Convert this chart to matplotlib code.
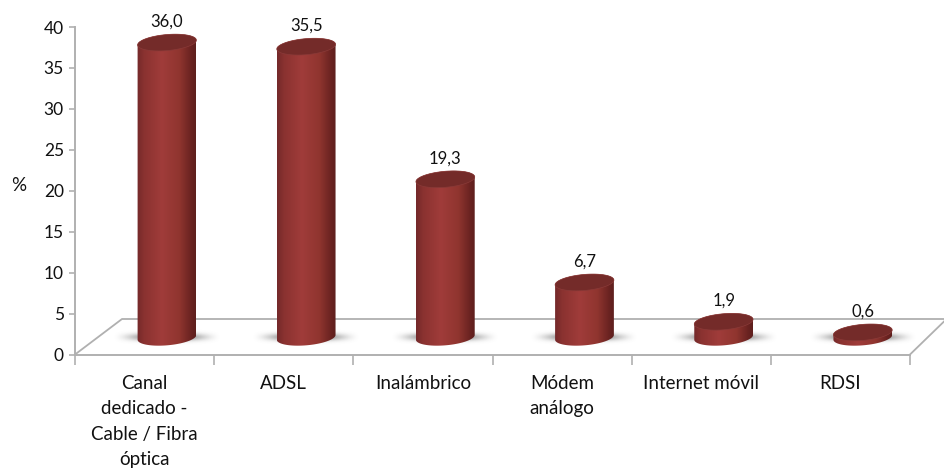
import numpy as np
import matplotlib
matplotlib.use('Agg')
import matplotlib.pyplot as plt
from matplotlib.colors import LinearSegmentedColormap
from matplotlib.patches import Polygon

categories = ['Canal\ndedicado -\nCable / Fibra\nóptica', 'ADSL', 'Inalámbrico',
              'Módem\nanálogo', 'Internet móvil', 'RDSI']
values = [36.0, 35.5, 19.3, 6.7, 1.9, 0.6]
value_labels = ['36,0', '35,5', '19,3', '6,7', '1,9', '0,6']
y_ticks = [0, 5, 10, 15, 20, 25, 30, 35, 40]

W, H = 944, 473
plt.rcParams['font.family'] = ['Lato', 'DejaVu Sans']

fig = plt.figure(figsize=(W / 100, H / 100), dpi=100)
# axes box in pixels: x 75..910, y 354.5 (0) .. 27 (40)
ax = fig.add_axes([75 / W, 1 - 354.5 / H, 835 / W, 327.5 / H])
ax.set_xlim(0, 6)
ax.set_ylim(0, 40)
sx = 835 / 6      # px per category
sy = 327.5 / 40   # px per %

grey = '#b0b0b0'
for s in ['top', 'right']:
    ax.spines[s].set_visible(False)
for s in ['left', 'bottom']:
    ax.spines[s].set_color(grey)
    ax.spines[s].set_linewidth(1.4)
ax.set_yticks(y_ticks)
ax.set_xticks(range(7))
ax.set_xticklabels([])
ax.tick_params(axis='y', length=4, width=1.2, color=grey, labelsize=12.5, pad=4, labelcolor='#111111')
ax.tick_params(axis='x', length=7, width=1.2, color=grey)

# floor in perspective
floor_dx = 47 / sx
floor_dy = 35.5 / sy
ax.plot([0, floor_dx, 869 / sx], [0, floor_dy, floor_dy], color=grey, lw=1.3, clip_on=False, zorder=1)
ax.plot([6, 6 + 34 / sx], [0, 33 / sy], color=grey, lw=1.3, clip_on=False, zorder=1)

ax.text(-56 / sx, 20.6, '%', fontsize=13.5, ha='center', va='center', color='#111111')

body_cmap = LinearSegmentedColormap.from_list('body', [
    (0.0, '#74292a'), (0.12, '#8a3230'), (0.42, '#a03c3a'),
    (0.72, '#90352f'), (0.92, '#6a2321'), (1.0, '#5e1f1d')])

base = 2.1
bar_dx = 0.161
a, b = 29.5, 8.0
tilt = np.deg2rad(5)


def ellipse(cx, cy, t):
    # tilted ellipse, built in px then scaled to data units
    px = a * np.cos(t) * np.cos(tilt) - b * np.sin(t) * np.sin(tilt)
    py = a * np.cos(t) * np.sin(tilt) + b * np.sin(t) * np.cos(tilt)
    return np.column_stack([cx + px / sx, cy + py / sy])


# soft shadow on the floor, fades out to nothing at the ends
yy, xx = np.mgrid[-1:1:60j, -1:1:200j]
shadow = np.zeros((60, 200, 4))
shadow[..., :3] = 0.35
shadow[..., 3] = 0.9 * (1 - xx ** 2) ** 2 * np.exp(-(yy / 0.45) ** 2)

for i, (v, lab) in enumerate(zip(values, value_labels)):
    cx = i + 0.5 + bar_dx
    top = base + v
    ax.imshow(shadow, extent=[cx - 55 / sx, cx + 55 / sx, base - 8 / sy, base + 8 / sy],
              aspect='auto', zorder=2, clip_on=False)

    t_low = np.linspace(np.pi, 2 * np.pi, 60)
    t_up = np.linspace(0, np.pi, 60)
    outline = np.vstack([ellipse(cx, base, t_low), ellipse(cx, top, t_up)])
    clip = Polygon(outline, closed=True, transform=ax.transData)
    grad = np.linspace(0, 1, 128).reshape(1, -1)
    im = ax.imshow(grad, cmap=body_cmap, extent=[cx - a / sx, cx + a / sx, 0, top + 2],
                   aspect='auto', zorder=3, clip_on=True)
    im.set_clip_path(clip)

    ax.add_patch(Polygon(ellipse(cx, top, np.linspace(0, 2 * np.pi, 120)), closed=True,
                         facecolor='#742b29', edgecolor='#8a3a38', lw=0.5, zorder=4, clip_on=False))

    ax.annotate(lab, (cx, top), xytext=(0, 15), textcoords='offset points',
                ha='center', va='center', fontsize=12, color='#111111', annotation_clip=False)

    ax.text(i + 0.5, -2.5, categories[i], fontsize=13.5, ha='center', va='top',
            linespacing=1.6, color='#111111')

ax.set_xlim(0, 6)
ax.set_ylim(0, 40)

fig.savefig('out.png', dpi=100)
